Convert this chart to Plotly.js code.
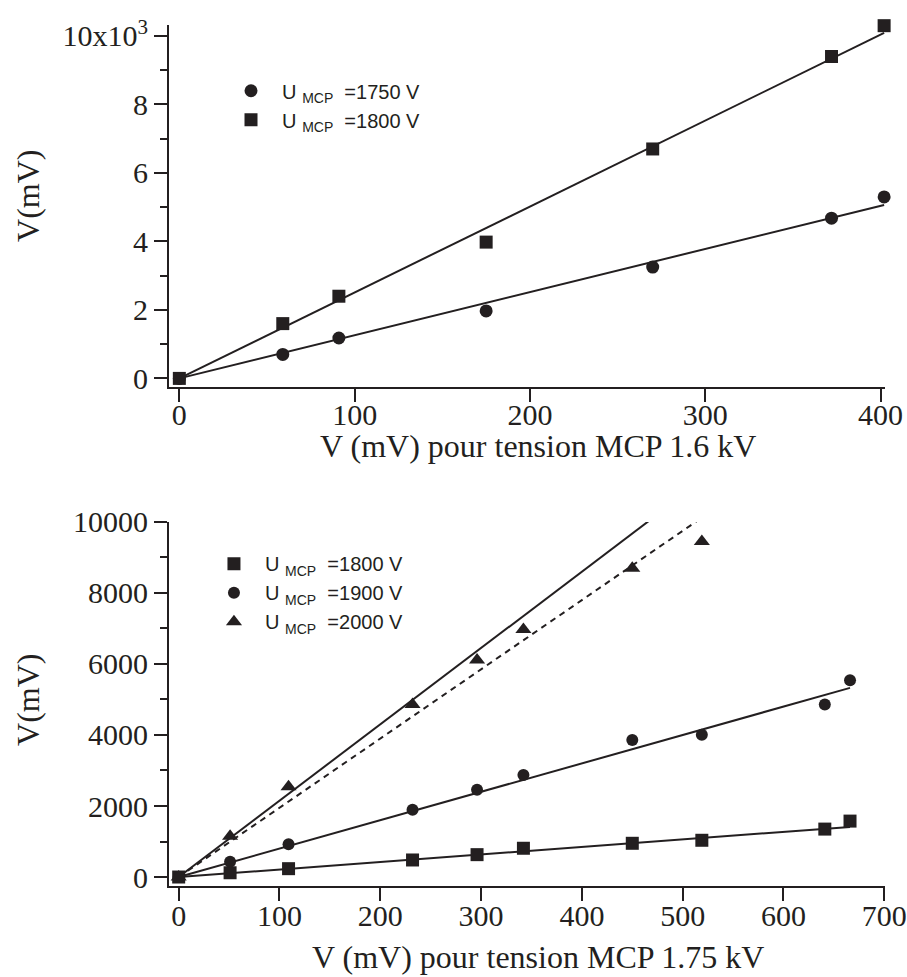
<!DOCTYPE html>
<html>
<head>
<meta charset="utf-8">
<script src="https://cdn.plot.ly/plotly-3.0.1.min.js"></script>
<style>
  html, body { margin: 0; padding: 0; background: #fff; }
  #chart { width: 907px; height: 977px; }
</style>
</head>
<body>
<div id="chart"></div>
<script>
// ---------- Data ----------
// Top panel: V (mV) for MCP 1.6 kV vs V(mV)
const topX = [0, 59, 91, 175, 270, 372, 402];
const top1750 = [0, 700, 1180, 1970, 3250, 4680, 5300];
const top1800 = [0, 1600, 2400, 3980, 6700, 9400, 10300];
const topFitSlopes = [12.6, 25.1];           // fit lines through origin (1750 V, 1800 V)
const topNames = ["1750 V", "1800 V"];

// Bottom panel: V (mV) for MCP 1.75 kV vs V(mV)
const botX = [0, 51, 109, 232, 296, 342, 450, 519, 641, 666];
const bot1800 = [0, 120, 235, 480, 630, 810, 950, 1035, 1350, 1575];
const bot1900 = [0, 430, 925, 1895, 2460, 2875, 3860, 4005, 4860, 5540];
const bot2000X = [0, 51, 109, 232, 296, 342, 450, 519];
const bot2000 = [0, 1150, 2545, 4860, 6110, 6970, 8700, 9450];
const botFitSlopes = [2.12, 8.0, 21.5, 19.5]; // 1800 V, 1900 V, 2000 V (solid), 2000 V (dashed)
const botNames = ["1800 V", "1900 V", "2000 V"];

// Tick labels
const topYTickVals = [0, 2000, 4000, 6000, 8000, 10000];
const topYTickText = ["0", "2", "4", "6", "8", "10x10<sup>3</sup>"];
const topXTicks = [0, 100, 200, 300, 400];
const botYTicks = [0, 2000, 4000, 6000, 8000, 10000];
const botYTickText = ["0", "2000", "4000", "6000", "8000", "10000"];
const botXTicks = [0, 100, 200, 300, 400, 500, 600, 700];

// ---------- Helpers ----------
const INK = "#231f20";
const SERIF = "Liberation Serif";
const SANS = "Liberation Sans";
const NB = "\u00a0";

function legendName(v) {
  return NB + NB + "U" + NB + "<sub>MCP</sub>" + NB + " =" + v;
}

function fitLine(xs, slope) {
  const xmax = Math.max(...xs);
  return { x: [0, xmax], y: [0, slope * xmax] };
}

const traces = [];
// Top fit lines
[0, 1].forEach(i => {
  const f = fitLine(topX, topFitSlopes[i]);
  traces.push({ x: f.x, y: f.y, xaxis: "x", yaxis: "y", mode: "lines",
    line: { color: INK, width: 2 }, showlegend: false, hoverinfo: "skip" });
});
// Top markers
traces.push({ x: topX, y: top1750, xaxis: "x", yaxis: "y", mode: "markers", name: legendName(topNames[0]),
  marker: { symbol: "circle", size: 13, color: INK }, legend: "legend", cliponaxis: false });
traces.push({ x: topX, y: top1800, xaxis: "x", yaxis: "y", mode: "markers", name: legendName(topNames[1]),
  marker: { symbol: "square", size: 13, color: INK }, legend: "legend", cliponaxis: false });

// Bottom fit lines
const bf1 = fitLine(botX, botFitSlopes[0]);
const bf2 = fitLine(botX, botFitSlopes[1]);
const bf3 = fitLine(bot2000X, botFitSlopes[2]);
const bf4 = fitLine(bot2000X, botFitSlopes[3]);
[[bf1, "solid"], [bf2, "solid"], [bf3, "solid"], [bf4, "dash"]].forEach(([f, d]) => {
  traces.push({ x: f.x, y: f.y, xaxis: "x2", yaxis: "y2", mode: "lines",
    line: { color: INK, width: 2, dash: d === "dash" ? "6px,5px" : "solid" },
    showlegend: false, hoverinfo: "skip" });
});
// Bottom markers
traces.push({ x: botX, y: bot1800, xaxis: "x2", yaxis: "y2", mode: "markers", name: legendName(botNames[0]),
  marker: { symbol: "square", size: 13, color: INK }, legend: "legend2", cliponaxis: false });
traces.push({ x: botX, y: bot1900, xaxis: "x2", yaxis: "y2", mode: "markers", name: legendName(botNames[1]),
  marker: { symbol: "circle", size: 12, color: INK }, legend: "legend2", cliponaxis: false });
traces.push({ x: bot2000X, y: bot2000, xaxis: "x2", yaxis: "y2", mode: "markers", name: legendName(botNames[2]),
  marker: { symbol: "triangle-up", size: 14, color: INK }, legend: "legend2", cliponaxis: false });

function axisStyle(extra) {
  return Object.assign({
    showline: true, linecolor: INK, linewidth: 2,
    ticks: "outside", ticklen: 13, tickwidth: 2, tickcolor: INK,
    showgrid: false, zeroline: false,
    tickfont: { family: SERIF, size: 30, color: INK }
  }, extra);
}
function minorStyle() {
  return { ticks: "outside", ticklen: 7, tickwidth: 2, tickcolor: INK, dtick: 1000, tick0: 0, showgrid: false };
}
function legendStyle(x, y) {
  return {
    x: x, y: y, xanchor: "left", yanchor: "top",
    bgcolor: "rgba(0,0,0,0)", borderwidth: 0,
    font: { family: SANS, size: 20, color: INK },
    itemclick: false, itemdoubleclick: false
  };
}
function titleAnn(text, x, y, angle) {
  return { text: text, xref: "paper", yref: "paper", x: x, y: y, textangle: angle || 0,
    xanchor: "center", yanchor: "middle", showarrow: false,
    font: { family: SERIF, size: 32, color: INK } };
}

const layout = {
  width: 907, height: 977,
  margin: { l: 169, r: 22, t: 25, b: 91 },
  paper_bgcolor: "#fff", plot_bgcolor: "#fff",
  showlegend: true,
  xaxis: axisStyle({ domain: [0, 1], anchor: "y", range: [-5.9, 402.5], ticklabelstandoff: -13,
    tickmode: "array", tickvals: topXTicks, ticktext: topXTicks.map(String) }),
  yaxis: axisStyle({ domain: [0.5796, 1], anchor: "x", range: [-250, 10320],
    tickmode: "array", tickvals: topYTickVals, ticktext: topYTickText, minor: minorStyle() }),
  xaxis2: axisStyle({ domain: [0, 1], anchor: "y2", range: [-9.6, 700.7], ticklabelstandoff: -11,
    tickmode: "array", tickvals: botXTicks, ticktext: botXTicks.map(String) }),
  yaxis2: axisStyle({ domain: [0, 0.4228], anchor: "x2", range: [-253, 10000],
    tickmode: "array", tickvals: botYTicks, ticktext: botYTickText, minor: minorStyle() }),
  legend: legendStyle(0.0866, 0.9463),
  legend2: legendStyle(0.0628, 0.397),
  annotations: [
    titleAnn("V (mV) pour tension MCP 1.6 kV", 0.5154, 0.511),
    titleAnn("V (mV) pour tension MCP 1.75 kV", 0.5154, -0.0825),
    titleAnn("V(mV)", -0.197, 0.8014, -90),
    titleAnn("V(mV)", -0.197, 0.216, -90)
  ]
};

Plotly.newPlot("chart", traces, layout, { staticPlot: true, displayModeBar: false });
</script>
</body>
</html>
